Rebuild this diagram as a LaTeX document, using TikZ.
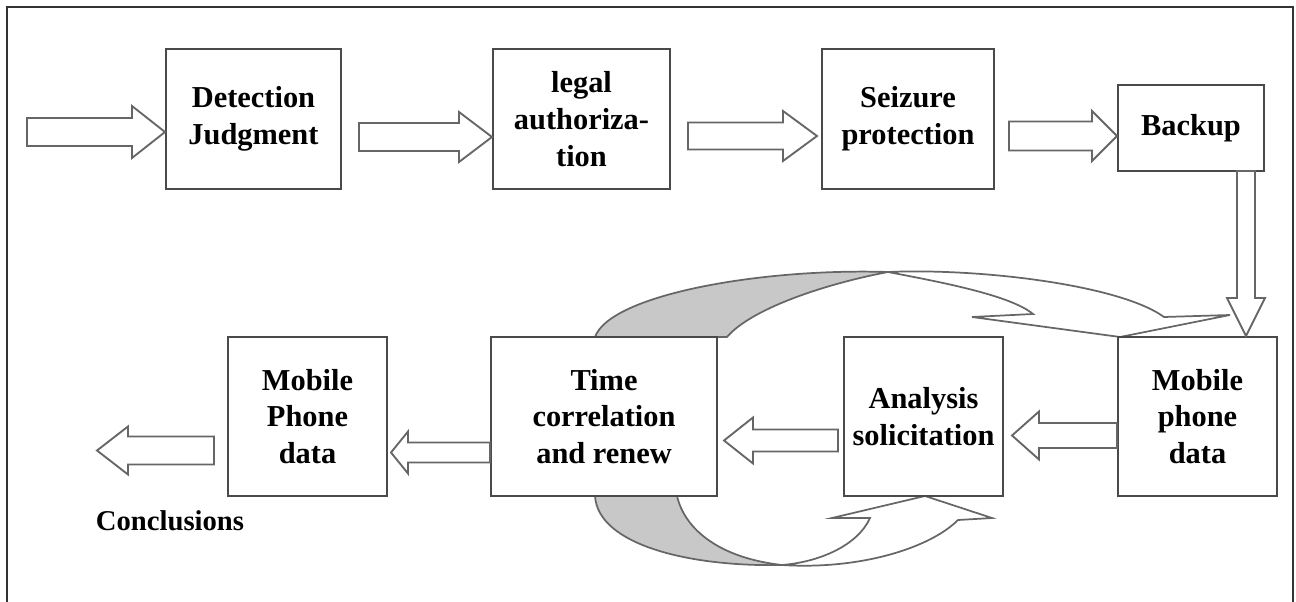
\documentclass[tikz,border=0pt]{standalone}
\usepackage{fontspec}
\setmainfont{Liberation Serif}
\usetikzlibrary{calc}
\definecolor{boxline}{HTML}{4A4A4A}
\definecolor{arrline}{HTML}{666666}
\definecolor{bandgray}{HTML}{C8C8C8}
\definecolor{frameline}{HTML}{333333}
\tikzset{
  procbox/.style={draw=boxline, line width=1.5pt, fill=white, align=center,
    font=\fontsize{22.8}{27.5}\selectfont\bfseries, inner sep=0pt},
  blk/.style={draw=arrline, line width=1.4pt, fill=white, line join=miter},
  band/.style={draw=arrline, line width=1.3pt, line join=miter},
  lbl/.style={font=\fontsize{21.5}{26}\selectfont\bfseries, inner sep=0pt},
}
% right-pointing block arrow: tail, tip, head length, shaft half, head half
\newcommand{\rarrow}[5]{%
  \draw[blk] ($(#1)+(0,-#4)$) -- ($(#2)+(-#3,-#4)$) -- ($(#2)+(-#3,-#5)$) -- (#2)
    -- ($(#2)+(-#3,#5)$) -- ($(#2)+(-#3,#4)$) -- ($(#1)+(0,#4)$) -- cycle;}
% left-pointing block arrow
\newcommand{\larrow}[5]{%
  \draw[blk] ($(#1)+(0,-#4)$) -- ($(#2)+(#3,-#4)$) -- ($(#2)+(#3,-#5)$) -- (#2)
    -- ($(#2)+(#3,#5)$) -- ($(#2)+(#3,#4)$) -- ($(#1)+(0,#4)$) -- cycle;}
% down-pointing block arrow
\newcommand{\darrow}[5]{%
  \draw[blk] ($(#1)+(-#4,0)$) -- ($(#2)+(-#4,-#3)$) -- ($(#2)+(-#5,-#3)$) -- (#2)
    -- ($(#2)+(#5,-#3)$) -- ($(#2)+(#4,-#3)$) -- ($(#1)+(#4,0)$) -- cycle;}
\begin{document}
\begin{tikzpicture}[x=0.75pt, y=-0.75pt]
\useasboundingbox (0,0) rectangle (1296,602);
% frame
\draw[frameline, line width=1.5pt] (7,602) -- (7,7) -- (1293,7) -- (1293,602);

% curved arrows (drawn first, boxes on top)
\draw[band, fill=bandgray] (595,337) .. controls (610,295) and (760,268) .. (888,272)
  .. controls (820,285) and (750,310) .. (727,337) -- cycle;
\draw[band, fill=white] (888,272) .. controls (980,268) and (1120,285) .. (1164,317)
  -- (1230,315) -- (1120,337) -- (972,317) -- (1033,314)
  .. controls (1010,295) and (940,282) .. (888,272) -- cycle;
\draw[band, fill=bandgray] (595,496) .. controls (598,545) and (690,567) .. (782,565)
  .. controls (720,558) and (685,530) .. (677,496) -- cycle;
\draw[band, fill=white] (782,565) .. controls (860,570) and (930,548) .. (958,520)
  -- (992,518) -- (925,496) -- (832,518) -- (870,518)
  .. controls (858,545) and (820,562) .. (782,565) -- cycle;

% boxes
\node[procbox, minimum width=131.25pt, minimum height=105pt] (det) at (253.5,119) {Detection\\Judgment};
\node[procbox, minimum width=132.75pt, minimum height=105pt] (legal) at (581.5,119) {legal\\authoriza-\\tion};
\node[procbox, minimum width=129pt, minimum height=105pt] (seiz) at (908,119) {Seizure\\protection};
\node[procbox, minimum width=109.5pt, minimum height=64.5pt] (backup) at (1191,128) {Backup};
\node[procbox, minimum width=119.25pt, minimum height=119.25pt] (mobR) at (1197.5,416.5) {Mobile\\phone\\data};
\node[procbox, minimum width=119.25pt, minimum height=119.25pt] (anal) at (923.5,416.5) {Analysis\\solicitation};
\node[procbox, minimum width=169.5pt, minimum height=119.25pt] (time) at (604,416.5) {Time\\correlation\\and renew};
\node[procbox, minimum width=119.25pt, minimum height=119.25pt] (mobL) at (307.5,416.5) {Mobile\\Phone\\data};
\node[lbl, anchor=base] (concl) at (170,530) {Conclusions};

% arrow end points
\coordinate (s0) at (27,132);
\coordinate (t0) at (det.west |- s0);
\coordinate (s1) at ($(det.east)+(17,18)$);
\coordinate (t1) at (legal.west |- s1);
\coordinate (s2) at ($(legal.east)+(17,17)$);
\coordinate (t2) at ($(seiz.west |- s2)+(-4,0)$);
\coordinate (s3) at ($(seiz.east)+(14,17)$);
\coordinate (t3) at (backup.west |- s3);
\coordinate (s4) at (1246,171);
\coordinate (t4) at (mobR.north -| s4);
\coordinate (s5) at ($(mobR.west)+(0,19)$);
\coordinate (t5) at ($(anal.east |- s5)+(8,0)$);
\coordinate (s6) at ($(anal.west)+(-5,24)$);
\coordinate (t6) at ($(time.east |- s6)+(6,0)$);
\coordinate (s7) at ($(time.west)+(0,36)$);
\coordinate (t7) at ($(mobL.east |- s7)+(3,0)$);
\coordinate (s8) at ($(mobL.west)+(-13,34)$);
\coordinate (t8) at (97,450.5);

% block arrows
\rarrow{s0}{t0}{33}{14}{26}
\rarrow{s1}{t1}{33}{14}{25}
\rarrow{s2}{t2}{34}{13.5}{25}
\rarrow{s3}{t3}{25}{14.5}{25}
\darrow{s4}{t4}{38}{9}{19}
\larrow{s5}{t5}{27}{12.5}{24}
\larrow{s6}{t6}{29}{11}{23}
\larrow{s7}{t7}{17}{10}{21}
\larrow{s8}{t8}{31}{14}{24}
\end{tikzpicture}
\end{document}
